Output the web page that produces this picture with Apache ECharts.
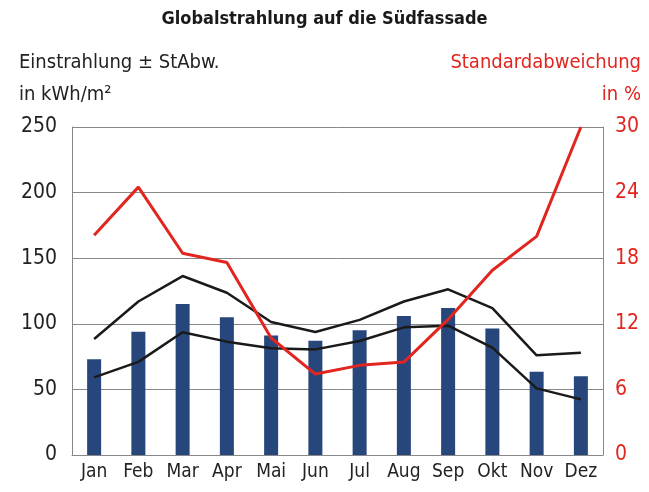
<!DOCTYPE html>
<html>
<head>
<meta charset="utf-8">
<script src="https://cdn.jsdelivr.net/npm/echarts@6/dist/echarts.min.js"></script>
<style>
    html,body{margin:0;padding:0;background:#fff;}
    #main{width:649px;height:492px;}
</style>
</head>
<body>
<div id="main"></div>
<script>
    var months = ['Jan','Feb','Mar','Apr','Mai','Jun','Jul','Aug','Sep','Okt','Nov','Dez'];
    // Einstrahlung kWh/m2
    var einstrahlung = [73, 94, 115, 105, 91, 87, 95, 106, 112, 96.5, 63.5, 60];
    // Einstrahlung + StAbw
    var plusStAbw = [88.4, 117, 136.4, 123.7, 101.4, 93.8, 103, 117, 126.3, 112, 76, 78];
    // Einstrahlung - StAbw
    var minusStAbw = [59.2, 71, 93.5, 86.4, 81.3, 80.5, 86.9, 97.3, 98.6, 81.8, 50.8, 42.4];
    // Standardabweichung in %
    var stAbwProzent = [20.1, 24.5, 18.45, 17.6, 10.7, 7.4, 8.2, 8.5, 12.4, 16.9, 20.0, 30];

    var font = "'Liberation Sans Narrow', 'DejaVu Sans Condensed', sans-serif";
    var red = '#e1251f';

    var myChart = echarts.init(document.getElementById('main'));
    myChart.setOption({
        animation: false,
        title: {
            text: 'Globalstrahlung auf die Südfassade', left: 'center', top: 5,
            textStyle: {fontFamily: font, fontSize: 18, fontWeight: 'bold', color: '#1a1a1a'}
        },
        graphic: [
            {type: 'text', left: 19, top: 53,
             style: {text: 'Einstrahlung ± StAbw.', font: '20px ' + font, fill: '#222'}},
            {type: 'text', left: 19, top: 85,
             style: {text: 'in kWh/m²', font: '20px ' + font, fill: '#222'}},
            {type: 'text', right: 8, top: 53,
             style: {text: 'Standardabweichung', font: '20px ' + font, fill: red}},
            {type: 'text', right: 8, top: 85,
             style: {text: 'in %', font: '20px ' + font, fill: red}}
        ],
        grid: {left: 72, right: 46, top: 127, bottom: 37},
        xAxis: {
            type: 'category',
            data: months,
            axisTick: {show: false},
            axisLine: {lineStyle: {color: '#888', width: 1}},
            axisLabel: {fontFamily: font, fontSize: 19, color: '#222', margin: 8}
        },
        yAxis: [
            {
                type: 'value', min: 0, max: 250, interval: 50,
                axisLine: {show: true, lineStyle: {color: '#888'}},
                axisTick: {show: false},
                splitLine: {lineStyle: {color: '#888', width: 1}},
                axisLabel: {fontFamily: font, fontSize: 21, color: '#222', margin: 15}
            },
            {
                type: 'value', min: 0, max: 30, interval: 6,
                axisLine: {show: true, lineStyle: {color: '#888'}},
                axisTick: {show: false},
                splitLine: {show: false},
                axisLabel: {fontFamily: font, fontSize: 21, color: red, margin: 12}
            }
        ],
        series: [
            {
                type: 'bar', data: einstrahlung, barWidth: 14,
                itemStyle: {color: '#27467c'}
            },
            {
                type: 'line', data: plusStAbw, symbol: 'none',
                lineStyle: {color: '#1a1a1a', width: 2.5}
            },
            {
                type: 'line', data: minusStAbw, symbol: 'none',
                lineStyle: {color: '#1a1a1a', width: 2.5}
            },
            {
                type: 'line', data: stAbwProzent, yAxisIndex: 1, symbol: 'none',
                lineStyle: {color: red, width: 3}
            }
        ]
    });
</script>
</body>
</html>
